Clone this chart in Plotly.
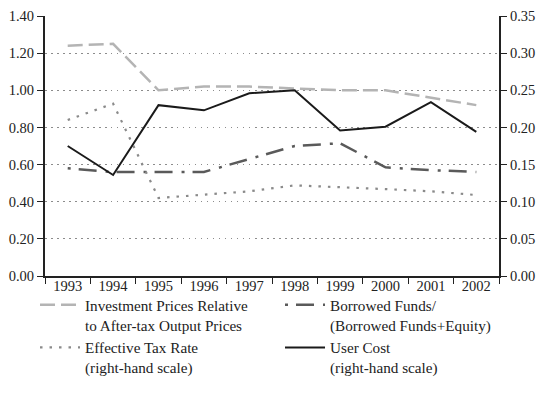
import plotly.graph_objects as go

years = ["1993", "1994", "1995", "1996", "1997", "1998", "1999", "2000", "2001", "2002"]

# left-hand scale
invest_prices = [1.24, 1.25, 1.00, 1.02, 1.02, 1.01, 1.00, 1.00, 0.96, 0.92]
borrowed_share = [0.58, 0.56, 0.56, 0.56, 0.63, 0.70, 0.715, 0.585, 0.57, 0.56]

# right-hand scale
tax_rate = [0.210, 0.232, 0.105, 0.109, 0.114, 0.122, 0.120, 0.117, 0.114, 0.109]
user_cost = [0.175, 0.136, 0.230, 0.223, 0.246, 0.250, 0.196, 0.201, 0.234, 0.194]

left_ticks = [0.0, 0.2, 0.4, 0.6, 0.8, 1.0, 1.2, 1.4]
right_ticks = [0.0, 0.05, 0.10, 0.15, 0.20, 0.25, 0.30, 0.35]

FONT = "Liberation Serif"
INK = "#222"

fig = go.Figure()
fig.add_trace(go.Scatter(
    x=years, y=invest_prices, mode="lines",
    name="Investment Prices Relative<br>to After-tax Output Prices",
    line=dict(color="#b4b4b4", width=2.5, dash="15px,6px"),
))
fig.add_trace(go.Scatter(
    x=years, y=borrowed_share, mode="lines",
    name="Borrowed Funds/<br>(Borrowed Funds+Equity)",
    line=dict(color="#5a5a5a", width=2.5, dash="3px,8px,18px,9px"),
))
fig.add_trace(go.Scatter(
    x=years, y=tax_rate, mode="lines", yaxis="y2",
    name="Effective Tax Rate<br>(right-hand scale)",
    line=dict(color="#8a8a8a", width=2.2, dash="2.5px,7px"),
))
fig.add_trace(go.Scatter(
    x=years, y=user_cost, mode="lines", yaxis="y2",
    name="User Cost<br>(right-hand scale)",
    line=dict(color="#1a1a1a", width=2),
))

fig.update_layout(
    width=540, height=398,
    margin=dict(l=45, r=41, t=16, b=122, autoexpand=False),
    paper_bgcolor="white", plot_bgcolor="white",
    font=dict(family=FONT, size=14.5, color=INK),
    showlegend=True,
    legend=dict(
        orientation="h", x=-0.022, y=-0.048, xanchor="left", yanchor="top",
        entrywidth=190, entrywidthmode="pixels", valign="top",
        bgcolor="rgba(0,0,0,0)",
        font=dict(family=FONT, size=15.2, color=INK),
        tracegroupgap=0, itemwidth=40,
    ),
    xaxis=dict(
        type="category", tickson="boundaries", ticks="outside", ticklen=6,
        tickcolor=INK, showline=True, linecolor=INK, linewidth=2,
        showgrid=False, tickfont=dict(family=FONT, size=14.5),
        ticklabelstandoff=-4, range=[-0.5, 9.5],
    ),
    yaxis=dict(
        range=[0, 1.4], tickvals=left_ticks,
        ticktext=[f"{v:.2f}" for v in left_ticks],
        ticks="outside", ticklen=6, tickcolor=INK,
        showline=True, linecolor=INK, linewidth=2,
        showgrid=True, gridcolor="#8c8c8c", griddash="1.5px,4.5px", gridwidth=1,
        zeroline=False, tickfont=dict(family=FONT, size=14.5),
    ),
    yaxis2=dict(
        range=[0, 0.35], tickvals=right_ticks,
        ticktext=[f"{v:.2f}" for v in right_ticks],
        overlaying="y", side="right",
        ticks="outside", ticklen=6, tickcolor=INK,
        showline=True, linecolor=INK, linewidth=2,
        showgrid=False, zeroline=False, tickfont=dict(family=FONT, size=14.5),
    ),
)

fig.write_html("out.html")
